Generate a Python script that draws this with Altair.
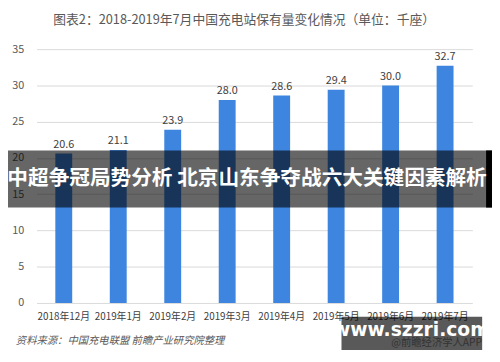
import altair as alt
import pandas as pd

months = ["2018年12月", "2019年1月", "2019年2月", "2019年3月",
          "2019年4月", "2019年5月", "2019年6月", "2019年7月"]
stations = [20.6, 21.1, 23.9, 28.0, 28.6, 29.4, 30.0, 32.7]
y_ticks = [0, 5, 10, 15, 20, 25, 30, 35]
title_text = "图表2：2018-2019年7月中国充电站保有量变化情况（单位：千座）"
source_text = "资料来源：中国充电联盟 前瞻产业研究院整理"
banner_text = "中超争冠局势分析 北京山东争夺战六大关键因素解析"
wm_text = "www.szzri.com"
wm_sub = "@前瞻经济学人APP"

FONT = "Noto Sans CJK SC"

df = pd.DataFrame({"month": months, "value": stations})
base = alt.Chart(df)

x = alt.X("month:N", sort=months,
          scale=alt.Scale(paddingInner=0.69, paddingOuter=0.345),
          axis=alt.Axis(title=None, labelAngle=0, labelFontSize=10,
                        labelColor="#404040", labelPadding=9, ticks=False,
                        domain=False, grid=False, labelFont=FONT))
y = alt.Y("value:Q", scale=alt.Scale(domain=[0, 35], nice=False),
          axis=alt.Axis(values=y_ticks, title=None, ticks=False, domain=False,
                        gridColor="#d9d9d9", labelFontSize=11,
                        labelColor="#595959", labelPadding=13, labelFont=FONT))

bars = base.mark_bar(color="#3D85DE").encode(x=x, y=y)
labels = base.mark_text(dy=-9, fontSize=11, color="#404040", font=FONT).encode(
    x=x, y=y, text=alt.Text("value:Q", format=".1f"))

one = alt.Chart(pd.DataFrame({"t": [0]}))

title = one.mark_text(text=title_text, fontSize=13, color="#595959", font=FONT,
                      align="center", baseline="middle").encode(
    x=alt.value(211), y=alt.value(-30))

banner = one.mark_rect(color="black", opacity=0.6).encode(
    x=alt.value(-29), x2=alt.value(463), y=alt.value(103), y2=alt.value(161))
banner_edge = one.mark_rect(color="black").encode(
    x=alt.value(457), x2=alt.value(463), y=alt.value(103), y2=alt.value(161))
banner_txt = one.mark_text(text=banner_text, fontSize=21, fontWeight="bold",
                           color="white", font=FONT, align="center",
                           baseline="middle").encode(
    x=alt.value(214), y=alt.value(132))

wm_box = one.mark_rect(color="black", opacity=0.65).encode(
    x=alt.value(310), x2=alt.value(453), y=alt.value(272), y2=alt.value(306))
wm_t = one.mark_text(text=wm_text, fontSize=19, fontWeight="bold",
                     color="white", font="DejaVu Sans", align="center",
                     baseline="middle").encode(
    x=alt.value(381), y=alt.value(286))
wm_s = one.mark_text(text=wm_sub, fontSize=10.5, color="#333333", font=FONT,
                     align="right", baseline="middle").encode(
    x=alt.value(453), y=alt.value(299))

source = one.mark_text(text=source_text, fontSize=10.5, fontStyle="italic",
                       color="#595959", font=FONT, align="left",
                       baseline="middle").encode(
    x=alt.value(-21), y=alt.value(297))

chart = alt.layer(bars, labels, title, source, banner, banner_edge, banner_txt,
                  wm_box, wm_t, wm_s).properties(
    width=443, height=258,
    autosize=alt.AutoSizeParams(type="none"),
    padding={"left": 29, "top": 39, "right": 20, "bottom": 45},
).configure_view(stroke=None)

chart.save("out.html", embed_options={"renderer": "svg", "actions": False})
